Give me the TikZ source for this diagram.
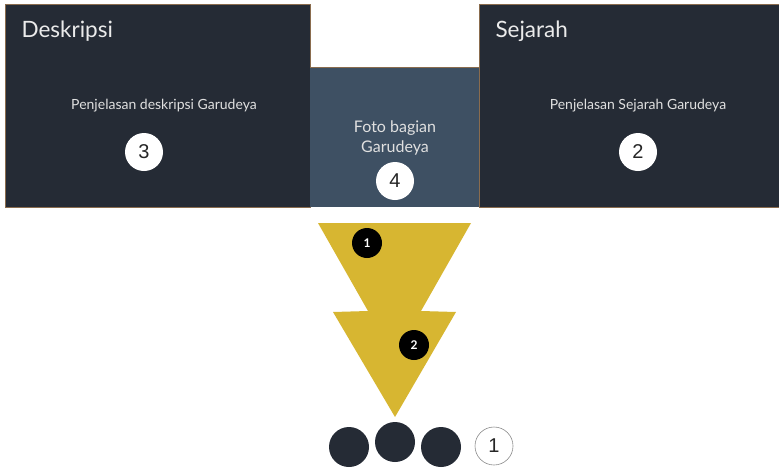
\documentclass[tikz,border=0pt]{standalone}
\usepackage{fontspec}
\setmainfont{Lato}
\newfontfamily\numfont{Liberation Sans}
\begin{document}
\begin{tikzpicture}[x=1pt,y=-1pt,
  panel/.style={fill=panelDark, draw=panelEdge, line width=0.6pt},
  title/.style={anchor=west, text=white!92!black, font=\fontsize{22.5}{26}\selectfont},
  body/.style={text=white!88!black, font=\fontsize{14}{17}\selectfont, align=center},
  badge/.style={circle, fill=white, minimum size=38pt, inner sep=0pt, font=\numfont\fontsize{20}{21}\selectfont, text=black!85},
  stepdot/.style={circle, fill=black, minimum size=30pt, inner sep=0pt, font=\fontsize{12}{13}\selectfont\bfseries, text=white},
  bigdot/.style={circle, fill=panelDark, minimum size=40pt, inner sep=0pt}]
\definecolor{panelDark}{HTML}{252B35}
\definecolor{panelMid}{HTML}{3E5063}
\definecolor{panelEdge}{HTML}{8A6C4E}
\definecolor{arrowGold}{HTML}{D7B631}
\useasboundingbox (0,0) rectangle (779,469);
\fill[white] (0,0) rectangle (779,469);

% three panels
\draw[panel] (5,4) rectangle (310,207);
\fill[panelMid] (310,67) rectangle (479,207);
\draw[panelEdge, line width=0.6pt] (310,67) -- (479,67);
\draw[panel] (479,4) rectangle (781,207);

\node[title] (tdesk) at (18,31) {Deskripsi};
\node[title] (tsej) at (492,31) {Sejarah};
\node[body] (pdesk) at (164,106) {Penjelasan deskripsi Garudeya};
\node[body] (psej) at (638,106) {Penjelasan Sejarah Garudeya};
\node[body, font=\fontsize{16}{20}\selectfont] (foto) at (395,138) {Foto bagian\\Garudeya};

\node[badge] (b3) at (144,152) {3};
\node[badge] (b2) at (638,152) {2};
\node[badge] (b4) at (395,181) {4};

% stacked arrow
\fill[arrowGold] (318,223) -- (471,223) -- (421,311) -- (456,312) -- (395,417)
  -- (333,312) -- (368,311) -- cycle;
\node[stepdot] (s1) at (367,243) {1};
\node[stepdot] (s2) at (414,345) {2};

% dots
\node[bigdot] (d1) at (349,447) {};
\node[bigdot] (d2) at (395,442) {};
\node[bigdot] (d3) at (441,447) {};
\node[badge, draw=black!45, line width=0.6pt] (b1) at (494,446) {1};
\end{tikzpicture}
\end{document}
